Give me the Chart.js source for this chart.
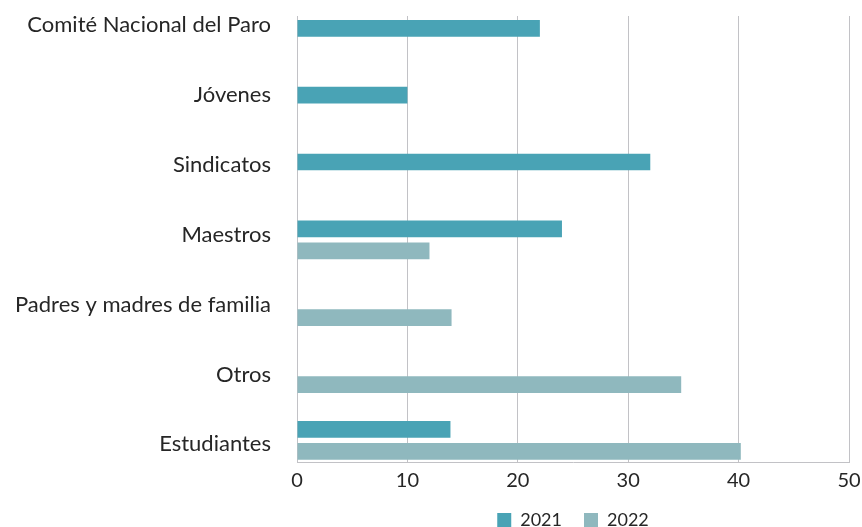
<!DOCTYPE html>
<html><head><meta charset="utf-8">
<script src="https://cdn.jsdelivr.net/npm/chart.js@4"></script>
<style>html,body{margin:0;padding:0;background:#fff}#wrap{width:862px;height:527px}</style>
</head><body><div id="wrap"><canvas id="c" width="862" height="527"></canvas></div>
<script>
const categories = ["Comité Nacional del Paro", "Jóvenes", "Sindicatos", "Maestros", "Padres y madres de familia", "Otros", "Estudiantes"];
const seriesNames = ["2021", "2022"];
const values2021 = [22, 10, 32, 24, null, null, 13.9];
const values2022 = [null, null, null, 12, 14, 34.8, 40.2];
const xTickMin = 0, xTickMax = 50, xTickStep = 10;

function toPoints(vals) {
  const out = [];
  vals.forEach((v, i) => { if (v !== null) out.push({ x: v, y: i }); });
  return out;
}

const textColor = '#262626';
const gridColor = '#c2c2c6';
const fontFamily = 'Lato, "Noto Sans", sans-serif';

new Chart(document.getElementById('c'), {
  type: 'bar',
  data: {
    datasets: [
      { label: seriesNames[0], data: toPoints(values2021), backgroundColor: '#49A3B5', categoryPercentage: 0.66, barPercentage: 0.759 },
      { label: seriesNames[1], data: toPoints(values2022), backgroundColor: '#8FB8BE', categoryPercentage: 0.66, barPercentage: 0.759 }
    ]
  },
  options: {
    indexAxis: 'y',
    responsive: false,
    animation: false,
    devicePixelRatio: 1,
    layout: { padding: { top: 16, right: 13, bottom: -12, left: 0 } },
    scales: {
      x: {
        type: 'linear', min: xTickMin, max: xTickMax,
        ticks: { stepSize: xTickStep, padding: 7, color: textColor, font: { family: fontFamily, size: 20 } },
        grid: { color: gridColor, drawTicks: false, lineWidth: 1 },
        border: { color: gridColor, width: 1 },
        afterFit(s) { s.height = 27; s.paddingLeft = 0; s.paddingRight = 0; }
      },
      y: {
        type: 'linear', reverse: true, min: -0.35, max: 6.3245, offset: false,
        grid: { display: false, drawTicks: false, offset: false },
        border: { display: false },
        afterBuildTicks(s) { s.ticks = categories.map((_, i) => ({ value: -0.215 + 1.046 * i })); },
        ticks: { autoSkip: false, padding: 26, color: textColor, font: { family: fontFamily, size: 22 },
                 callback: (v, i) => categories[i] },
        afterFit(s) { s.width = 297; s.paddingTop = 0; s.paddingBottom = 0; }
      }
    },
    plugins: {
      legend: {
        position: 'bottom', fullSize: false,
        labels: { boxWidth: 14, boxHeight: 14, padding: 22, color: textColor, font: { family: fontFamily, size: 18 } }
      },
      tooltip: { enabled: false }
    }
  }
});
</script>
</body></html>
